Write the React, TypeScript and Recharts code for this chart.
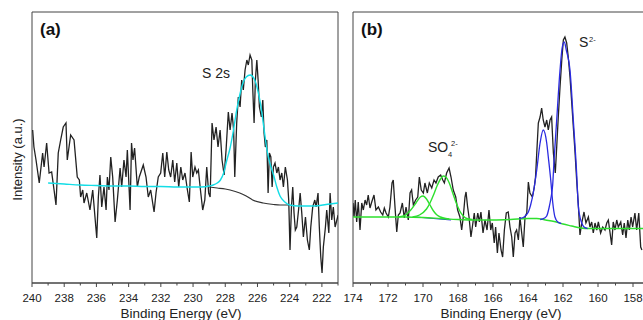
import { LineChart, Line, XAxis, YAxis, ReferenceArea } from 'recharts';
import type { ReactNode } from 'react';

type Pt = [number, number];

// binding energy (eV), intensity (a.u., 0 = bottom of frame)
const rawA: Pt[] = [
  [239.96, 153], [239.88, 136], [239.75, 123], [239.55, 100], [239.34, 130], [239.25, 116], [239.09, 140], [238.94, 110],
  [238.78, 111], [238.63, 93], [238.51, 78], [238.37, 130], [238.22, 143], [238.06, 156], [237.89, 160], [237.81, 123],
  [237.6, 148], [237.39, 143], [237.19, 106], [237.06, 103], [236.98, 86], [236.85, 93], [236.77, 80], [236.6, 90],
  [236.4, 73], [236.23, 93], [236.09, 66], [235.98, 45], [235.88, 86], [235.78, 108], [235.67, 76], [235.53, 96],
  [235.4, 73], [235.32, 106], [235.22, 93], [235.11, 126], [234.99, 106], [234.84, 61], [234.7, 83], [234.53, 115],
  [234.43, 96], [234.29, 123], [234.16, 106], [234.08, 133], [233.91, 73], [233.82, 140], [233.73, 123], [233.63, 135],
  [233.46, 96], [233.34, 106], [233.09, 118], [232.92, 106], [232.78, 86], [232.63, 93], [232.42, 71], [232.3, 90],
  [232.16, 106], [232.01, 110], [231.88, 130], [231.76, 106], [231.63, 131], [231.51, 113], [231.39, 106], [231.26, 123],
  [231.14, 101], [231.01, 120], [230.89, 96], [230.76, 116], [230.64, 103], [230.5, 110], [230.35, 93], [230.23, 81],
  [230.12, 131], [230.02, 106], [229.88, 116], [229.77, 110], [229.67, 113], [229.52, 90], [229.4, 73], [229.27, 83],
  [229.15, 116], [229.03, 90], [228.94, 86], [228.82, 160], [228.7, 143], [228.57, 156], [228.45, 136], [228.32, 153],
  [228.2, 123], [228.07, 108], [227.95, 133], [227.81, 171], [227.7, 153], [227.58, 170], [227.48, 153], [227.41, 106],
  [227.29, 160], [227.19, 186], [227.08, 176], [226.98, 203], [226.88, 193], [226.77, 213], [226.66, 223], [226.57, 218],
  [226.46, 228], [226.35, 223], [226.29, 193], [226.21, 160], [226.13, 203], [226.04, 223], [225.96, 203], [225.88, 176],
  [225.76, 166], [225.67, 183], [225.59, 150], [225.51, 136], [225.42, 143], [225.34, 90], [225.26, 130], [225.17, 126],
  [225.09, 96], [225.01, 116], [224.91, 120], [224.8, 110], [224.7, 116], [224.6, 103], [224.49, 110], [224.39, 96],
  [224.27, 116], [224.14, 103], [224.06, 83], [223.98, 33], [223.89, 76], [223.81, 96], [223.73, 70], [223.65, 53],
  [223.56, 56], [223.43, 76], [223.35, 90], [223.25, 70], [223.15, 46], [223.02, 66], [222.9, 43], [222.78, 33],
  [222.69, 56], [222.57, 76], [222.44, 83], [222.36, 76], [222.24, 90], [222.16, 56], [222.07, 26], [221.99, 10],
  [221.91, 36], [221.78, 56], [221.7, 73], [221.57, 50], [221.49, 90], [221.39, 63], [221.29, 76], [221.18, 56],
  [221.07, 63], [220.99, 68],
];

const fitA: Pt[] = [
  [239, 100], [238, 99], [237, 98], [236, 97.5], [235, 97], [234, 97], [233, 96.5], [232, 96.5], [231, 96], [230, 96],
  [229.5, 96], [229, 97], [228.75, 98], [228.5, 100], [228.3, 103], [228.1, 110], [227.9, 123], [227.7, 135], [227.5, 152],
  [227.3, 172], [227.1, 188], [226.9, 200], [226.7, 206], [226.45, 208], [226.2, 204], [226, 194], [225.8, 178], [225.6, 155],
  [225.4, 132], [225.2, 118], [225, 108], [224.8, 96], [224.6, 87], [224.3, 81], [224, 78], [223.5, 77], [222.5, 77],
  [221.5, 79], [221, 80],
];

const bgA: Pt[] = [
  [229, 96], [228.5, 95], [228, 94], [227.7, 93], [227.1, 90], [226.7, 87], [226.3, 83], [225.65, 80], [225, 78.5],
  [224.6, 78], [224, 78],
];

const rawB: Pt[] = [
  [174, 80], [173.94, 66], [173.87, 83], [173.79, 61], [173.7, 81], [173.6, 53], [173.5, 80], [173.41, 73], [173.31, 83],
  [173.22, 78], [173.13, 88], [173.03, 75], [172.93, 81], [172.8, 88], [172.69, 73], [172.55, 76], [172.42, 71], [172.3, 68],
  [172.21, 75], [172.11, 70], [171.98, 66], [171.89, 76], [171.77, 100], [171.7, 103], [171.6, 76], [171.5, 51], [171.41, 68],
  [171.31, 70], [171.18, 80], [171.07, 65], [170.97, 76], [170.84, 63], [170.74, 90], [170.65, 93], [170.55, 78], [170.42, 83],
  [170.3, 86], [170.21, 106], [170.1, 93], [169.98, 90], [169.89, 100], [169.75, 90], [169.64, 100], [169.5, 95], [169.37, 103],
  [169.26, 100], [169.13, 106], [168.99, 108], [168.87, 103], [168.78, 100], [168.65, 110], [168.51, 115], [168.4, 106],
  [168.27, 93], [168.13, 86], [168.02, 73], [167.89, 66], [167.79, 53], [167.7, 66], [167.6, 86], [167.54, 91], [167.45, 76],
  [167.37, 66], [167.26, 46], [167.18, 56], [167.07, 70], [166.99, 56], [166.87, 70], [166.78, 61], [166.69, 71], [166.57, 50],
  [166.46, 63], [166.34, 53], [166.23, 73], [166.13, 53], [166.04, 60], [165.93, 40], [165.85, 56], [165.75, 30], [165.66, 50],
  [165.54, 33], [165.45, 26], [165.35, 53], [165.24, 70], [165.13, 71], [165.03, 56], [164.93, 46], [164.84, 26], [164.74, 50],
  [164.65, 53], [164.55, 43], [164.46, 66], [164.36, 50], [164.27, 36], [164.17, 66], [164.07, 70], [163.98, 101], [163.89, 90],
  [163.75, 86], [163.64, 96], [163.57, 106], [163.5, 130], [163.41, 160], [163.31, 166], [163.22, 175], [163.13, 163],
  [163.03, 156], [162.93, 163], [162.84, 153], [162.74, 163], [162.65, 166], [162.55, 130], [162.44, 110], [162.36, 136],
  [162.27, 166], [162.17, 196], [162.07, 223], [161.98, 243], [161.89, 246], [161.79, 240], [161.7, 226], [161.6, 206],
  [161.5, 180], [161.41, 156], [161.31, 130], [161.22, 103], [161.13, 80], [161.03, 48], [160.93, 60], [160.8, 71],
  [160.69, 60], [160.55, 66], [160.46, 56], [160.36, 61], [160.27, 50], [160.17, 60], [160.07, 53], [159.98, 61], [159.85, 50],
  [159.73, 56], [159.6, 53], [159.5, 60], [159.41, 63], [159.31, 50], [159.22, 38], [159.13, 61], [159.03, 53], [158.93, 63],
  [158.84, 56], [158.7, 61], [158.59, 48], [158.5, 60], [158.4, 45], [158.3, 63], [158.21, 53], [158.11, 66], [158.02, 56],
  [157.89, 70], [157.79, 53], [157.67, 70], [157.56, 36], [157.49, 33],
];

const bgB: Pt[] = [
  [174, 66], [172, 66], [171, 66], [170, 65.5], [169, 64.5], [168, 63.5], [167, 63], [166, 63], [165, 63.5], [164, 64.5],
  [163.5, 64.5], [163, 63], [162.5, 61.5], [162, 59], [161.5, 57], [161, 55], [160.5, 54.5], [158, 54.5], [157.3, 54.5],
];

const so4Base: Pt[] = [[170.4, 66], [169.4, 64.5], [168.4, 63]];

const so4High: Pt[] = [
  [170.6, 66], [170.2, 68], [169.8, 74], [169.6, 80], [169.4, 88], [169.2, 97], [169, 104], [168.85, 107], [168.7, 106],
  [168.5, 100], [168.3, 90], [168.1, 80], [167.9, 72], [167.7, 67], [167.5, 64.5], [167.2, 63.5],
];

const so4Low: Pt[] = [
  [171.4, 66], [171, 68], [170.7, 73], [170.4, 80], [170.15, 86], [170, 87], [169.8, 84], [169.6, 78], [169.4, 72],
  [169.2, 68], [169, 66], [168.7, 64.5], [168.5, 64],
];

const s2Small: Pt[] = [
  [164.5, 64.5], [164.27, 65.5], [164.1, 68], [163.98, 71], [163.85, 78], [163.7, 90], [163.5, 113], [163.31, 140],
  [163.13, 153], [162.93, 140], [162.84, 126], [162.7, 103], [162.59, 81], [162.46, 66], [162.3, 61], [162.1, 59.5],
];

const s2Big: Pt[] = [
  [163.3, 63.5], [163.05, 65], [162.93, 67], [162.8, 75], [162.7, 84], [162.59, 98], [162.51, 123], [162.36, 163],
  [162.17, 213], [162.05, 235], [161.93, 241], [161.8, 232], [161.6, 213], [161.41, 163], [161.22, 110], [161.13, 78],
  [161.03, 66], [160.93, 60], [160.8, 56], [160.6, 54.5],
];

const ticksA = [221, 222, 223, 224, 225, 226, 227, 228, 229, 230, 231, 232, 233, 234, 235, 236, 237, 238, 239, 240];
const ticksB = [158, 159, 160, 161, 162, 163, 164, 165, 166, 167, 168, 169, 170, 171, 172, 173, 174];

const FONT = '"Liberation Sans", Arial, sans-serif';
const AXIS = '#444';

const rows = (pts: Pt[]) => pts.map(([e, i]) => ({ e, i }));

function EnergyTick({ x, y, payload }: any) {
  const v = payload.value as number;
  const major = v % 2 === 0;
  return (
    <g>
      <line x1={x} x2={x} y1={y} y2={y + (major ? 4 : 2.5)} stroke={AXIS} />
      {major && (
        <text x={x} y={y + 18.5} textAnchor="middle" fontSize={11.5} fontFamily={FONT} fill="#222">
          {v}
        </text>
      )}
    </g>
  );
}

interface PanelProps {
  left: number;
  width: number;
  plotLeft: number;
  plotRight: number;
  domain: [number, number];
  ticks: number[];
  children: ReactNode;
}

function Panel({ left, width, plotLeft, plotRight, domain, ticks, children }: PanelProps) {
  return (
    <div style={{ position: 'absolute', left, top: 0 }}>
      <LineChart
        width={width}
        height={320}
        margin={{ top: 12, right: left + width - plotRight, bottom: 0, left: plotLeft - left }}
      >
        <XAxis
          type="number"
          dataKey="e"
          domain={domain}
          reversed
          allowDataOverflow
          ticks={ticks}
          interval={0}
          tick={<EnergyTick />}
          tickLine={false}
          tickSize={0}
          tickMargin={0}
          height={37}
          stroke={AXIS}
        />
        <YAxis type="number" domain={[0, 271]} hide allowDataOverflow />
        <ReferenceArea x1={domain[0]} x2={domain[1]} y1={0} y2={271} fill="none" stroke={AXIS} strokeWidth={1} />
        {children}
      </LineChart>
    </div>
  );
}

export default function App() {
  return (
    <div style={{ position: 'absolute', left: 0, top: 0, width: 643, height: 320, overflow: 'hidden', background: '#fff' }}>
      <Panel left={0} width={343} plotLeft={32} plotRight={338} domain={[221, 240]} ticks={ticksA}>
        <Line data={rows(rawA)} dataKey="i" type="linear" stroke="#222" strokeWidth={1.3} dot={false} isAnimationActive={false} />
        <Line data={rows(bgA)} dataKey="i" type="monotone" stroke="#333" strokeWidth={1.2} dot={false} isAnimationActive={false} />
        <Line data={rows(fitA)} dataKey="i" type="monotone" stroke="#14dde6" strokeWidth={1.4} dot={false} isAnimationActive={false} />
      </Panel>
      <Panel left={340} width={310} plotLeft={353} plotRight={645.25} domain={[157.3, 174]} ticks={ticksB}>
        <Line data={rows(rawB)} dataKey="i" type="linear" stroke="#222" strokeWidth={1.3} dot={false} isAnimationActive={false} />
        <Line data={rows(so4Base)} dataKey="i" type="linear" stroke="#2a2ae0" strokeWidth={1.2} dot={false} isAnimationActive={false} />
        <Line data={rows(bgB)} dataKey="i" type="monotone" stroke="#2ee02e" strokeWidth={1.4} dot={false} isAnimationActive={false} />
        <Line data={rows(so4Low)} dataKey="i" type="monotone" stroke="#2ee02e" strokeWidth={1.4} dot={false} isAnimationActive={false} />
        <Line data={rows(so4High)} dataKey="i" type="monotone" stroke="#2ee02e" strokeWidth={1.4} dot={false} isAnimationActive={false} />
        <Line data={rows(s2Small)} dataKey="i" type="monotone" stroke="#2a2ae0" strokeWidth={1.3} dot={false} isAnimationActive={false} />
        <Line data={rows(s2Big)} dataKey="i" type="monotone" stroke="#2a2ae0" strokeWidth={1.3} dot={false} isAnimationActive={false} />
      </Panel>
      <svg width={643} height={320} style={{ position: 'absolute', left: 0, top: 0, pointerEvents: 'none' }} fontFamily={FONT}>
        <text x={40} y={35} fontSize={17} fontWeight="bold" fill="#111">(a)</text>
        <text x={361} y={35} fontSize={17} fontWeight="bold" fill="#111">(b)</text>
        <text x={202} y={78} fontSize={14} fill="#222">S 2s</text>
        <text x={579} y={47} fontSize={14} fill="#222">S</text>
        <text x={589} y={42} fontSize={7.5} fill="#222">2-</text>
        <text x={428} y={152} fontSize={14} fill="#222">SO</text>
        <text x={448} y={157} fontSize={7.5} fill="#222">4</text>
        <text x={451} y={146} fontSize={7.5} fill="#222">2-</text>
        <text x={22} y={159.5} fontSize={13} fill="#222" textAnchor="middle" transform="rotate(-90 22 159.5)">Intensity (a.u.)</text>
        <text x={181} y={318} fontSize={13.5} fill="#222" textAnchor="middle">Binding Energy (eV)</text>
        <text x={501} y={318} fontSize={13.5} fill="#222" textAnchor="middle">Binding Energy (eV)</text>
      </svg>
    </div>
  );
}
